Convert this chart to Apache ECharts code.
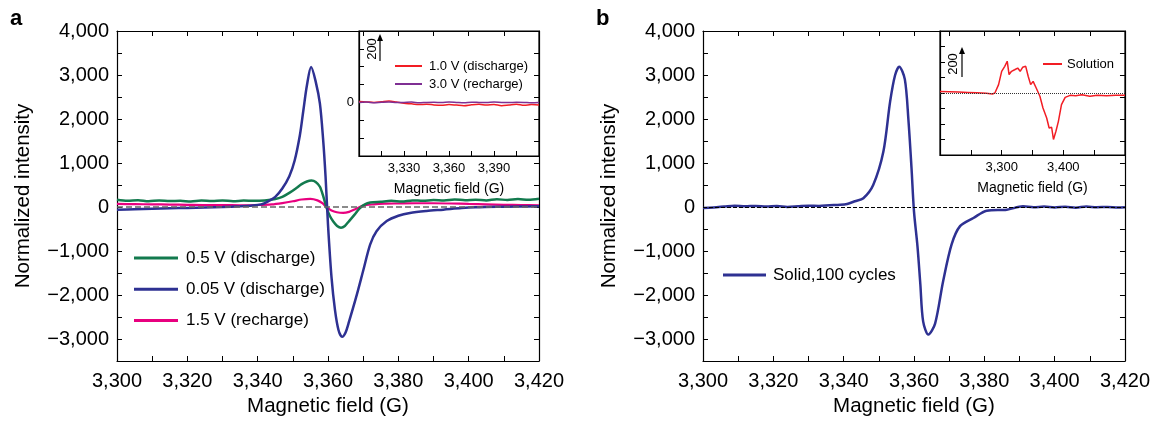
<!DOCTYPE html>
<html><head><meta charset="utf-8">
<script src="https://cdn.jsdelivr.net/npm/echarts@6/dist/echarts.min.js"></script>
<style>html,body{margin:0;padding:0;background:#fff}#c{width:1153px;height:422px}</style>
</head><body><div id="c"></div><script>
const FONT = "'Liberation Sans', Arial, Helvetica, sans-serif";

// ---------- Panel a, main ----------
const xBlueA = [3300,3305,3310,3315,3320,3325,3330,3335,3338,3341,3343,3345,3347,3349,3350.5,3352,3353,3354,3355.2,3356.5,3357.7,3358.6,3359.3,3360,3361,3362,3363,3364,3365,3366,3368,3370,3372,3373.8,3376.7,3380,3383.3,3388,3392.8,3398,3402,3408,3414,3420];
const yBlueA = [-60,-50,-40,-30,-20,-10,0,15,30,60,130,230,420,700,1050,1630,2200,2760,3180,2850,2350,1550,700,-400,-1600,-2350,-2800,-2950,-2850,-2600,-2050,-1450,-850,-550,-320,-200,-135,-90,-60,-25,-7,5,10,15];

const xGreenA = [3300,3303,3306,3309,3312,3315,3318,3321,3324,3327,3330,3333,3336,3339,3342,3345,3347,3349,3351,3352.5,3354,3355.3,3356.5,3357.7,3358.7,3359.6,3360.5,3361.5,3362.6,3363.7,3364.8,3366,3367.5,3369,3370.5,3372,3375,3378,3381,3384,3387,3390,3393,3396,3399,3402,3405,3408,3411,3414,3417,3420];
const yGreenA = [165,140,155,130,150,135,140,125,145,135,150,130,145,140,150,180,230,320,430,520,580,600,570,460,230,-20,-200,-330,-430,-470,-430,-320,-180,-30,60,100,120,140,125,150,140,160,150,170,155,165,150,175,160,180,165,190];

const xPinkA = [3300,3305,3310,3315,3320,3325,3330,3335,3340,3344,3347,3350,3352.5,3355,3357,3358.5,3359.6,3361,3362.5,3364.3,3366,3368,3370,3373,3376,3380,3385,3390,3395,3400,3405,3410,3415,3420];
const yPinkA = [70,65,60,55,50,45,45,40,45,60,90,130,170,185,150,80,-10,-80,-120,-135,-110,-40,30,60,75,80,85,85,80,70,60,50,45,40];

// ---------- Panel a, inset ----------
const xInsetA = [3300,3305,3310,3315,3320,3325,3330,3335,3340,3345,3350,3355,3360,3365,3370,3375,3380,3385,3390,3395,3400,3405,3410,3415,3420];
const yRed10 = [5,3,0,4,8,2,-5,-8,-12,-10,-14,-16,-12,-15,-18,-13,-10,-15,-12,-18,-14,-10,-16,-12,-14];
const yPurple30 = [0,2,-2,1,3,-1,0,2,-2,0,1,-1,2,0,-2,1,0,-1,2,0,-1,1,0,-2,0];

// ---------- Panel b, main ----------
const xBlueB = [3300,3303,3306,3309,3312,3315,3318,3321,3324,3327,3330,3333,3336,3339,3341,3343.2,3345.6,3348.4,3351.3,3353.2,3354.6,3355.8,3357.4,3358.4,3359.3,3360,3361,3361.8,3362.6,3364.1,3366,3368.3,3370.7,3373.1,3376.9,3380.7,3386.4,3391,3394,3397,3400,3403,3406,3409,3412,3415,3418,3420];
const yBlueB = [-20,-10,10,30,15,25,10,20,0,15,30,25,40,50,70,130,200,500,1260,2390,2990,3190,2900,2000,880,-100,-900,-1750,-2600,-2900,-2650,-1680,-850,-435,-250,-83,-60,15,-5,10,-10,5,-15,10,-5,0,-10,-5];

// ---------- Panel b, inset ----------
const xSolution = [3200,3215,3230,3245,3260,3275,3285,3289,3295,3300,3305,3309,3312,3316,3321,3326,3330,3334,3339,3343,3347,3351,3356,3362,3367,3373,3377,3381,3384,3388,3392,3397,3403,3411,3420,3430,3443,3455,3470,3485,3500];
const ySolution = [10,8,6,4,2,-2,-6,0,54,140,172,205,119,140,150,161,140,166,172,108,54,75,32,-21,-97,-161,-226,-221,-300,-247,-183,-75,-28,-15,-18,-12,-21,-15,-18,-14,-15];

// tick labels
const mainYLabels = [-3000,-2000,-1000,0,1000,2000,3000,4000];
const mainXLabels = [3300,3320,3340,3360,3380,3400,3420];
const insetAXLabels = [3330,3360,3390];
const insetBXLabels = [3300,3400];

const fmt = v => (v < 0 ? '\u2212' : '') + Math.abs(v).toLocaleString('en-US');
const pairs = (xs, ys) => xs.map((x, i) => [x, ys[i]]);

const C_BLUE = '#2E3192', C_GREEN = '#137A4E', C_PINK = '#E8007F', C_RED = '#F21D24', C_PURPLE = '#7F2F93';

const tick = {show:true, inside:true, length:5, lineStyle:{color:'#000', width:1}};
const aline = {show:true, onZero:false, lineStyle:{color:'#000', width:1.2}};

function xAx(grid, pos, min, max, interval, labels, size, name, nameGap) {
  return {
    type:'value', gridIndex:grid, position:pos, min, max, interval,
    axisLine:aline, axisTick:tick, splitLine:{show:false},
    axisLabel: labels ? {show:true, color:'#000', fontFamily:FONT, fontSize:size, margin: size > 15 ? 10 : 6,
      formatter: v => labels.includes(v) ? fmt(v) : ''} : {show:false},
    name: name || '', nameLocation:'middle', nameGap: nameGap || 0,
    nameTextStyle:{color:'#000', fontFamily:FONT, fontSize: size > 15 ? 20.5 : 14}
  };
}
function yAx(grid, pos, min, max, interval, labels, size, name, nameGap) {
  return {
    type:'value', gridIndex:grid, position:pos, min, max, interval,
    axisLine:aline, axisTick:tick, splitLine:{show:false},
    axisLabel: labels ? {show:true, color:'#000', fontFamily:FONT, fontSize:size, margin: size > 15 ? 8 : 5,
      formatter: v => labels.includes(v) ? fmt(v) : ''} : {show:false},
    name: name || '', nameLocation:'middle', nameGap: nameGap || 0,
    nameTextStyle:{color:'#000', fontFamily:FONT, fontSize:20.5}
  };
}

const zeroLine = (color, type, width) => ({
  silent:true, symbol:['none','none'], label:{show:false},
  lineStyle:{color, type, width}, data:[{yAxis:0}], animation:false
});

const option = {
  animation:false,
  backgroundColor:'#fff',
  grid:[
    {left:117, top:31, width:422, height:332},
    {left:703, top:31, width:422, height:332},
    {left:359, top:31, width:180, height:125, show:true, borderColor:'#000', borderWidth:1.2, backgroundColor:'#fff'},
    {left:940, top:31, width:185, height:124, show:true, borderColor:'#000', borderWidth:1.2, backgroundColor:'#fff'}
  ],
  xAxis:[
    xAx(0,'bottom',3300,3420,10,mainXLabels,20,'Magnetic field (G)',35),
    xAx(0,'top',3300,3420,10,null),
    xAx(1,'bottom',3300,3420,10,mainXLabels,20,'Magnetic field (G)',35),
    xAx(1,'top',3300,3420,10,null),
    xAx(2,'bottom',3300,3420,15,insetAXLabels,13,'Magnetic field (G)',26),
    xAx(3,'bottom',3200,3500,50,insetBXLabels,13,'Magnetic field (G)',26)
  ],
  yAxis:[
    yAx(0,'left',-3500,4000,500,mainYLabels,20,'Normalized intensity',83),
    yAx(0,'right',-3500,4000,500,null),
    yAx(1,'left',-3500,4000,500,mainYLabels,20,'Normalized intensity',83),
    yAx(1,'right',-3500,4000,500,null),
    yAx(2,'left',-300,400,100,[0],13),
    yAx(3,'left',-400,400,100,null)
  ],
  legend:[
    {orient:'vertical', left:129, top:243, icon:'rect', itemWidth:44, itemHeight:3, itemGap:11.3,
     textStyle:{fontFamily:FONT, fontSize:17, color:'#000', lineHeight:20, padding:[0,0,0,3]},
     data:['0.5 V (discharge)','0.05 V (discharge)','1.5 V (recharge)']},
    {orient:'vertical', left:390, top:54, icon:'rect', itemWidth:27, itemHeight:2, itemGap:4,
     textStyle:{fontFamily:FONT, fontSize:13, color:'#000', lineHeight:14, padding:[0,0,0,2]},
     data:['1.0 V (discharge)','3.0 V (recharge)']},
    {orient:'vertical', left:718, top:260, icon:'rect', itemWidth:43, itemHeight:3,
     textStyle:{fontFamily:FONT, fontSize:17, color:'#000', lineHeight:20, padding:[0,0,0,2]},
     data:['Solid,100 cycles']},
    {orient:'vertical', left:1038, top:52, icon:'rect', itemWidth:19, itemHeight:2,
     textStyle:{fontFamily:FONT, fontSize:13, color:'#000', lineHeight:14},
     data:['Solution']}
  ],
  series:[
    {name:'1.5 V (recharge)', type:'line', xAxisIndex:0, yAxisIndex:0, data:pairs(xPinkA,yPinkA),
     symbol:'none', smooth:0.3, lineStyle:{color:C_PINK, width:2.2}, itemStyle:{color:C_PINK},
     markLine: zeroLine('#666','dashed',1.5)},
    {name:'0.5 V (discharge)', type:'line', xAxisIndex:0, yAxisIndex:0, data:pairs(xGreenA,yGreenA),
     symbol:'none', smooth:0.3, lineStyle:{color:C_GREEN, width:2.5}, itemStyle:{color:C_GREEN}},
    {name:'0.05 V (discharge)', type:'line', xAxisIndex:0, yAxisIndex:0, data:pairs(xBlueA,yBlueA),
     symbol:'none', smooth:0.3, lineStyle:{color:C_BLUE, width:2.5}, itemStyle:{color:C_BLUE}},
    {name:'1.0 V (discharge)', type:'line', xAxisIndex:4, yAxisIndex:4, data:pairs(xInsetA,yRed10),
     symbol:'none', smooth:0.3, lineStyle:{color:C_RED, width:1.5}, itemStyle:{color:C_RED}},
    {name:'3.0 V (recharge)', type:'line', xAxisIndex:4, yAxisIndex:4, data:pairs(xInsetA,yPurple30),
     symbol:'none', smooth:0.3, lineStyle:{color:C_PURPLE, width:1.5}, itemStyle:{color:C_PURPLE}},
    {name:'Solid,100 cycles', type:'line', xAxisIndex:2, yAxisIndex:2, data:pairs(xBlueB,yBlueB),
     symbol:'none', smooth:0.3, lineStyle:{color:C_BLUE, width:2.5}, itemStyle:{color:C_BLUE},
     markLine: zeroLine('#000','dashed',1)},
    {name:'Solution', type:'line', xAxisIndex:5, yAxisIndex:5, data:pairs(xSolution,ySolution),
     symbol:'none', lineStyle:{color:C_RED, width:1.5}, itemStyle:{color:C_RED},
     markLine: zeroLine('#333','dotted',1)}
  ],
  graphic:[
    {type:'text', left:10, top:8, style:{text:'a', font:'bold 22px ' + FONT, fill:'#000'}},
    {type:'text', left:596, top:8, style:{text:'b', font:'bold 22px ' + FONT, fill:'#000'}},
    {type:'text', x:372, y:49, rotation:Math.PI/2, style:{text:'200', fontSize:13, fontFamily:FONT, fill:'#000', align:'center', verticalAlign:'middle'}},
    {type:'line', shape:{x1:380, y1:61, x2:380, y2:40}, style:{stroke:'#000', lineWidth:1.2}},
    {type:'polygon', shape:{points:[[377,41],[383,41],[380,34]]}, style:{fill:'#000'}},
    {type:'text', x:953, y:64, rotation:Math.PI/2, style:{text:'200', fontSize:13, fontFamily:FONT, fill:'#000', align:'center', verticalAlign:'middle'}},
    {type:'line', shape:{x1:962, y1:77, x2:962, y2:53}, style:{stroke:'#000', lineWidth:1.2}},
    {type:'polygon', shape:{points:[[959,54],[965,54],[962,47]]}, style:{fill:'#000'}}
  ]
};
const chart = echarts.init(document.getElementById('c'));
chart.setOption(option);
</script></body></html>
